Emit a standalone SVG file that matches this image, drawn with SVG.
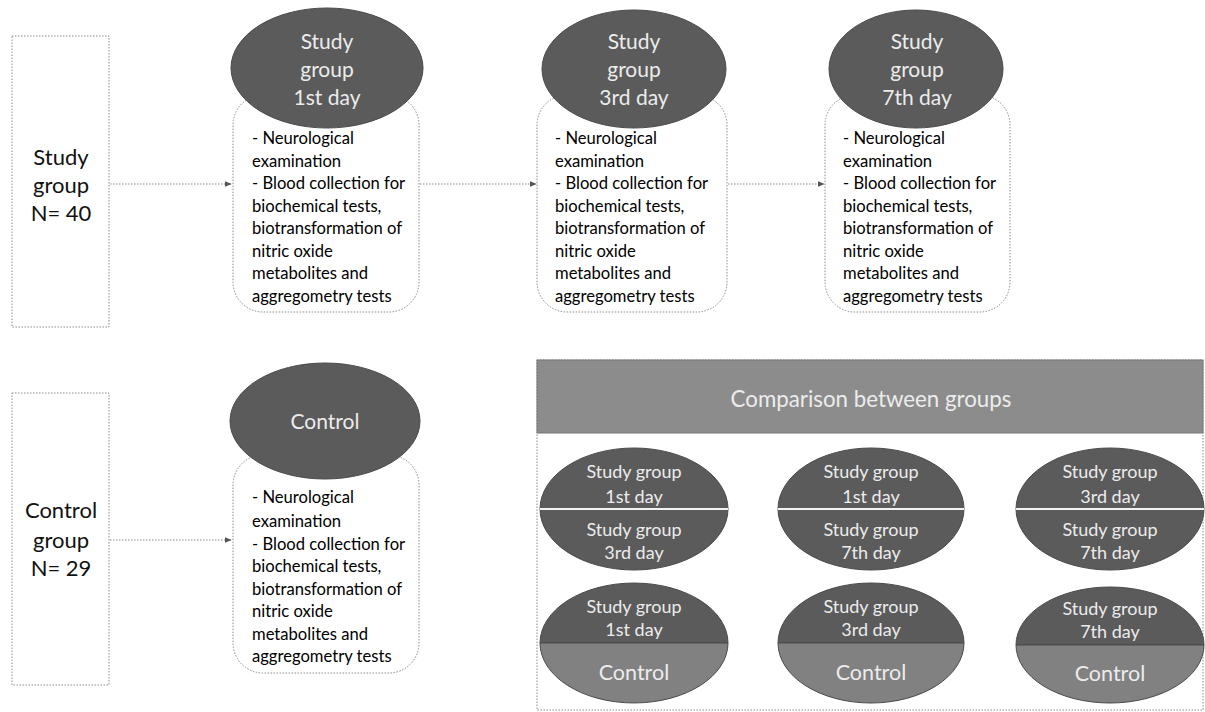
<svg xmlns="http://www.w3.org/2000/svg" width="1205" height="712" viewBox="0 0 1205 712">
<defs>
<marker id="arr" viewBox="0 0 10 10" refX="9" refY="5" markerWidth="7" markerHeight="7" orient="auto" markerUnits="userSpaceOnUse"><path d="M0,1 L10,5 L0,9 Z" fill="#555"/></marker>
</defs>
<style>
.dot{fill:none;stroke:#8a8a8a;stroke-width:1;stroke-dasharray:1.5 1.5}
.rbox{fill:#fff;stroke:#8a8a8a;stroke-width:1;stroke-dasharray:1.5 1.5}
.dark{fill:#5b5b5b;stroke:#4a4a4a;stroke-width:1}
.light{fill:#818181;stroke:#4a4a4a;stroke-width:1}
.side{font-family:Lato,"Open Sans",sans-serif;font-size:22px;fill:#111;text-anchor:middle}
.body{font-family:Lato,"Open Sans",sans-serif;font-size:16.6px;fill:#000}
.el{font-family:Lato,"Open Sans",sans-serif;font-size:21px;fill:#ececec;text-anchor:middle}
.pel{font-family:Lato,"Open Sans",sans-serif;font-size:18px;fill:#ececec;text-anchor:middle}
.ctl{font-family:Lato,"Open Sans",sans-serif;font-size:21.5px;fill:#ececec;text-anchor:middle}
.hdr{font-family:Lato,"Open Sans",sans-serif;font-size:22.3px;fill:#ececec;text-anchor:middle}
.conn{fill:none;stroke:#8a8a8a;stroke-width:1;stroke-dasharray:1.5 1.5}
</style>
<rect width="1205" height="712" fill="#fff"/>

<g id="study-group">
<rect class="dot" x="12" y="36" width="97" height="291"/>
<text class="side" x="61" y="165">Study</text>
<text class="side" x="61" y="193">group</text>
<text class="side" x="61" y="221">N= 40</text>
</g>

<g id="control-group">
<rect class="dot" x="12" y="393" width="97" height="292"/>
<text class="side" x="61" y="518">Control</text>
<text class="side" x="61" y="548">group</text>
<text class="side" x="61" y="576">N= 29</text>
</g>

<g id="day1">
<rect class="rbox" x="233" y="95" width="186" height="217" rx="30"/>
<ellipse class="dark" cx="327" cy="68" rx="96" ry="60"/>
<text class="el" x="327" y="49">Study</text>
<text class="el" x="327" y="77">group</text>
<text class="el" x="327" y="105">1st day</text>
<text class="body" x="252"><tspan x="252" y="144">- Neurological</tspan><tspan x="252" y="167">examination</tspan><tspan x="252" y="189">- Blood collection for</tspan><tspan x="252" y="212">biochemical tests,</tspan><tspan x="252" y="234">biotransformation of</tspan><tspan x="252" y="257">nitric oxide</tspan><tspan x="252" y="279">metabolites and</tspan><tspan x="252" y="302">aggregometry tests</tspan></text>
</g>

<g id="day3">
<rect class="rbox" x="537" y="95" width="190" height="217" rx="30"/>
<ellipse class="dark" cx="634" cy="69" rx="92" ry="59"/>
<text class="el" x="634" y="49">Study</text>
<text class="el" x="634" y="77">group</text>
<text class="el" x="634" y="105">3rd day</text>
<text class="body" x="555"><tspan x="555" y="144">- Neurological</tspan><tspan x="555" y="167">examination</tspan><tspan x="555" y="189">- Blood collection for</tspan><tspan x="555" y="212">biochemical tests,</tspan><tspan x="555" y="234">biotransformation of</tspan><tspan x="555" y="257">nitric oxide</tspan><tspan x="555" y="279">metabolites and</tspan><tspan x="555" y="302">aggregometry tests</tspan></text>
</g>

<g id="day7">
<rect class="rbox" x="825" y="95" width="185" height="217" rx="30"/>
<ellipse class="dark" cx="916" cy="69" rx="87" ry="59"/>
<text class="el" x="917" y="49">Study</text>
<text class="el" x="917" y="77">group</text>
<text class="el" x="917" y="105">7th day</text>
<text class="body" x="843"><tspan x="843" y="144">- Neurological</tspan><tspan x="843" y="167">examination</tspan><tspan x="843" y="189">- Blood collection for</tspan><tspan x="843" y="212">biochemical tests,</tspan><tspan x="843" y="234">biotransformation of</tspan><tspan x="843" y="257">nitric oxide</tspan><tspan x="843" y="279">metabolites and</tspan><tspan x="843" y="302">aggregometry tests</tspan></text>
</g>

<g id="control">
<rect class="rbox" x="233" y="455" width="186" height="218" rx="30"/>
<ellipse class="dark" cx="325" cy="421" rx="95" ry="58"/>
<text class="el" x="325" y="429">Control</text>
<text class="body" x="252"><tspan x="252" y="503">- Neurological</tspan><tspan x="252" y="527">examination</tspan><tspan x="252" y="550">- Blood collection for</tspan><tspan x="252" y="572">biochemical tests,</tspan><tspan x="252" y="595">biotransformation of</tspan><tspan x="252" y="617">nitric oxide</tspan><tspan x="252" y="640">metabolites and</tspan><tspan x="252" y="662">aggregometry tests</tspan></text>
</g>

<g id="connectors">
<line class="conn" x1="110" y1="184" x2="231" y2="184" marker-end="url(#arr)"/>
<line class="conn" x1="420" y1="184" x2="536" y2="184" marker-end="url(#arr)"/>
<line class="conn" x1="728" y1="184" x2="824" y2="184" marker-end="url(#arr)"/>
<line class="conn" x1="110" y1="540" x2="231" y2="540" marker-end="url(#arr)"/>
</g>

<g id="comparison">
<rect class="dot" x="537" y="360" width="666" height="350" fill="#fff"/>
<rect x="537" y="360" width="666" height="73" fill="#8c8c8c" stroke="#777" stroke-width="1"/>
<text class="hdr" x="871" y="407">Comparison between groups</text>
</g>

<g id="cmp-1-3">
<ellipse class="dark" cx="634" cy="509" rx="94" ry="61"/>
<line x1="540" y1="509" x2="728" y2="509" stroke="#f2f2f2" stroke-width="2"/>
<text class="pel" x="634" y="478">Study group</text>
<text class="pel" x="634" y="503">1st day</text>
<text class="pel" x="634" y="536">Study group</text>
<text class="pel" x="634" y="559">3rd day</text>
</g>

<g id="cmp-1-7">
<ellipse class="dark" cx="871" cy="509" rx="93" ry="61"/>
<line x1="778" y1="509" x2="964" y2="509" stroke="#f2f2f2" stroke-width="2"/>
<text class="pel" x="871" y="478">Study group</text>
<text class="pel" x="871" y="503">1st day</text>
<text class="pel" x="871" y="536">Study group</text>
<text class="pel" x="871" y="559">7th day</text>
</g>

<g id="cmp-3-7">
<ellipse class="dark" cx="1110" cy="509" rx="94" ry="61"/>
<line x1="1016" y1="509" x2="1204" y2="509" stroke="#f2f2f2" stroke-width="2"/>
<text class="pel" x="1110" y="478">Study group</text>
<text class="pel" x="1110" y="503">3rd day</text>
<text class="pel" x="1110" y="536">Study group</text>
<text class="pel" x="1110" y="559">7th day</text>
</g>

<g id="cmp-1-c">
<path class="dark" d="M540,643 A94,60 0 0 1 728,643 Z"/>
<path class="light" d="M540,643 A94,60 0 0 0 728,643 Z"/>
<text class="pel" x="634" y="613">Study group</text>
<text class="pel" x="634" y="636">1st day</text>
<text class="ctl" x="634" y="680">Control</text>
</g>

<g id="cmp-3-c">
<path class="dark" d="M778,643 A93,60 0 0 1 964,643 Z"/>
<path class="light" d="M778,643 A93,60 0 0 0 964,643 Z"/>
<text class="pel" x="871" y="613">Study group</text>
<text class="pel" x="871" y="636">3rd day</text>
<text class="ctl" x="871" y="680">Control</text>
</g>

<g id="cmp-7-c">
<path class="dark" d="M1016,645 A94,58 0 0 1 1204,645 Z"/>
<path class="light" d="M1016,645 A94,58 0 0 0 1204,645 Z"/>
<text class="pel" x="1110" y="615">Study group</text>
<text class="pel" x="1110" y="638">7th day</text>
<text class="ctl" x="1110" y="681">Control</text>
</g>
</svg>
